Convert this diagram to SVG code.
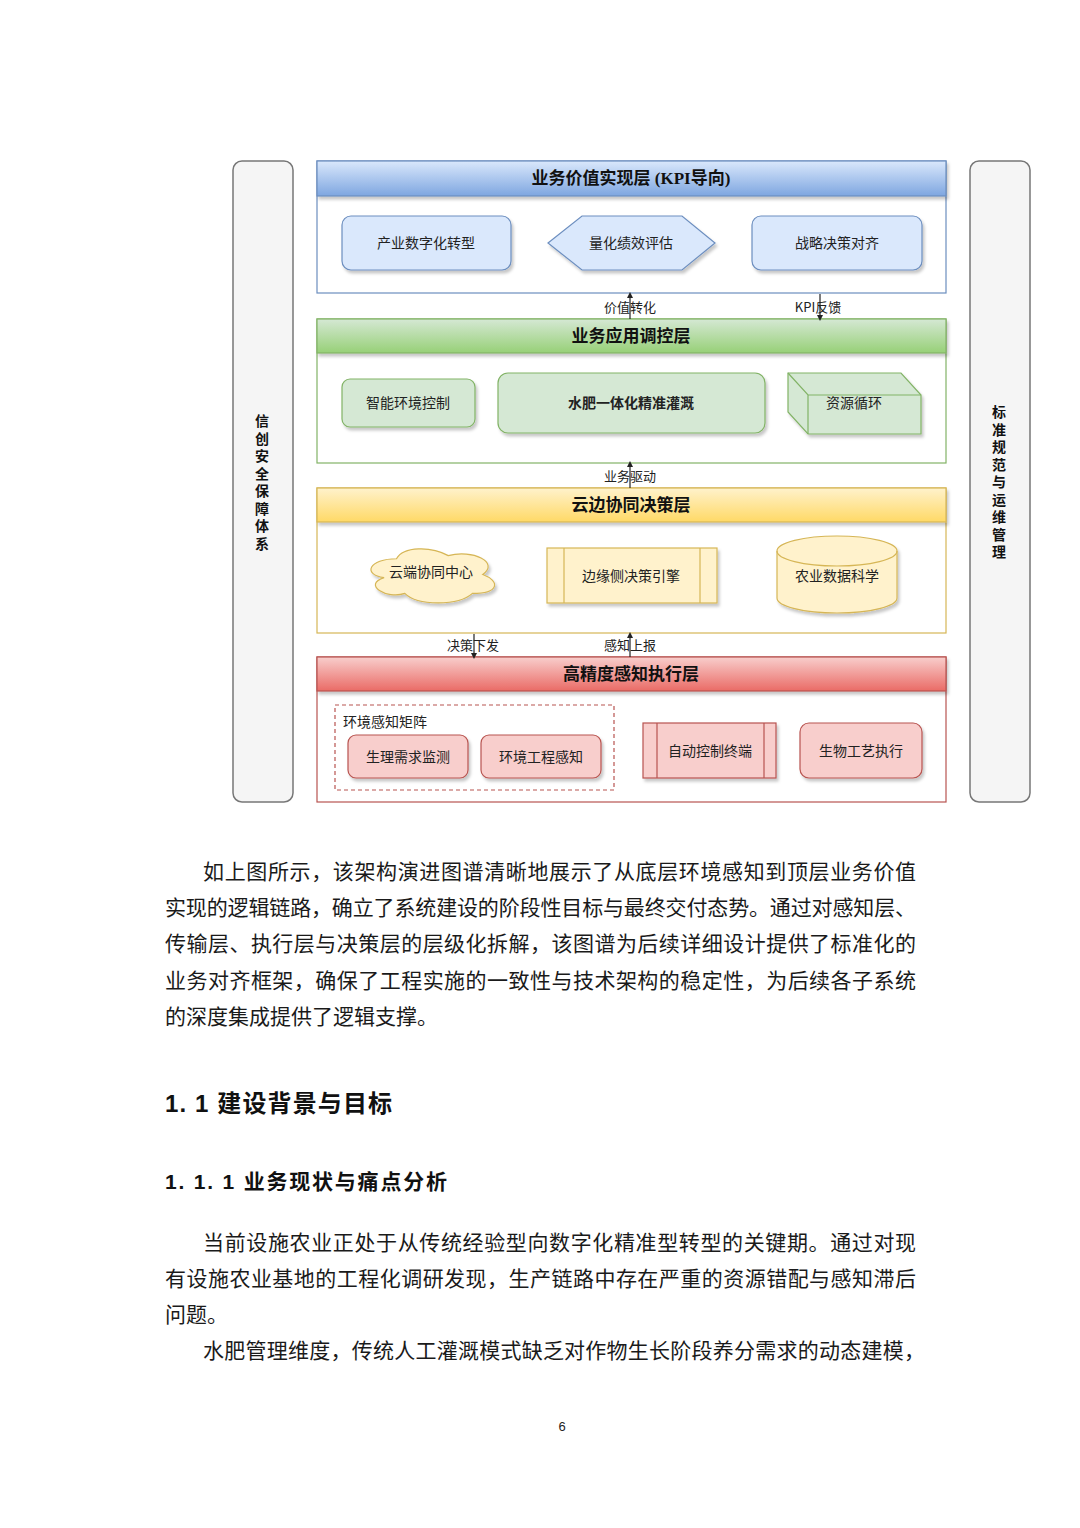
<svg xmlns="http://www.w3.org/2000/svg" width="1080" height="1528" viewBox="0 0 1080 1528">
<defs>
<linearGradient id="gBlue" x1="0" y1="0" x2="0" y2="1"><stop offset="0" stop-color="#dae8fc"/><stop offset="1" stop-color="#7ea6e0"/></linearGradient>
<linearGradient id="gGreen" x1="0" y1="0" x2="0" y2="1"><stop offset="0" stop-color="#d5e8d4"/><stop offset="1" stop-color="#97d077"/></linearGradient>
<linearGradient id="gYellow" x1="0" y1="0" x2="0" y2="1"><stop offset="0" stop-color="#fff2cc"/><stop offset="1" stop-color="#ffd966"/></linearGradient>
<linearGradient id="gRed" x1="0" y1="0" x2="0" y2="1"><stop offset="0" stop-color="#f8cecc"/><stop offset="1" stop-color="#ea6b66"/></linearGradient>
<filter id="sh" x="-10%" y="-10%" width="130%" height="140%"><feDropShadow dx="2" dy="3" stdDeviation="1.5" flood-color="#000" flood-opacity="0.22"/></filter>
<marker id="aUp" viewBox="0 0 6 6" refX="3" refY="3" markerWidth="5" markerHeight="5" orient="auto"><path d="M0,0 L6,3 L0,6 Z" fill="#222"/></marker>
</defs>
<style>
.side{fill:#f5f5f5;stroke:#777;stroke-width:1.5}
.sidet{font-family:"Noto Sans CJK SC","Noto Sans",sans-serif;font-size:14px;font-weight:bold;fill:#111;text-anchor:middle}
.hdr{font-family:"Liberation Serif","Noto Sans CJK SC",serif;font-size:17px;font-weight:bold;fill:#111;text-anchor:middle}
.nt{font-family:"Noto Sans CJK SC","Noto Sans",sans-serif;font-size:14px;fill:#222;text-anchor:middle}
.ntl{font-family:"Noto Sans CJK SC","Noto Sans",sans-serif;font-size:14px;fill:#222;text-anchor:start}
.lbl{font-family:"Noto Sans CJK SC","Noto Sans",sans-serif;font-size:13px;fill:#222;text-anchor:middle}
.blue{fill:#dae8fc;stroke:#6c8ebf;stroke-width:1.2}
.green{fill:#d5e8d4;stroke:#82b366;stroke-width:1.2}
.yellow{fill:#fff2cc;stroke:#d6b656;stroke-width:1.2}
.red{fill:#f8cecc;stroke:#b85450;stroke-width:1.2}
.con{stroke:#222;stroke-width:1.2;fill:none;marker-end:url(#aUp)}
.p{font-family:"Liberation Serif","Noto Sans CJK SC",serif;font-size:21px;fill:#1a1a1a}
.h{font-family:"Liberation Sans","Noto Sans CJK SC",sans-serif;font-weight:bold;fill:#111}
</style>
<rect width="1080" height="1528" fill="#ffffff"/>

<g id="side-left">
<rect class="side" x="233" y="161" width="60" height="641" rx="9"/>
<text class="sidet" x="262"><tspan x="262" y="426">信</tspan><tspan x="262" y="443.5">创</tspan><tspan x="262" y="461">安</tspan><tspan x="262" y="478.5">全</tspan><tspan x="262" y="496">保</tspan><tspan x="262" y="513.5">障</tspan><tspan x="262" y="531">体</tspan><tspan x="262" y="548.5">系</tspan></text>
</g>
<g id="side-right">
<rect class="side" x="970" y="161" width="60" height="641" rx="9"/>
<text class="sidet" x="999"><tspan x="999" y="417">标</tspan><tspan x="999" y="434.5">准</tspan><tspan x="999" y="452">规</tspan><tspan x="999" y="469.5">范</tspan><tspan x="999" y="487">与</tspan><tspan x="999" y="504.5">运</tspan><tspan x="999" y="522">维</tspan><tspan x="999" y="539.5">管</tspan><tspan x="999" y="557">理</tspan></text>
</g>

<g id="layer1">
<rect x="317" y="161" width="629" height="132" fill="#fff" stroke="#6c8ebf" stroke-width="1.2"/>
<rect x="317" y="161" width="629" height="35" fill="url(#gBlue)" stroke="#6c8ebf" stroke-width="1.2" filter="url(#sh)"/>
<text class="hdr" x="631" y="184">业务价值实现层 (KPI导向)</text>
</g>
<g id="n-chanye"><rect class="blue" x="342" y="216" width="169" height="54" rx="9" filter="url(#sh)"/><text class="nt" x="426" y="248">产业数字化转型</text></g>
<g id="n-lianghua"><polygon class="blue" points="548,243 582,216 682,216 715,243 682,270 582,270" filter="url(#sh)"/><text class="nt" x="631" y="248">量化绩效评估</text></g>
<g id="n-zhanlue"><rect class="blue" x="752" y="216" width="170" height="54" rx="9" filter="url(#sh)"/><text class="nt" x="837" y="248">战略决策对齐</text></g>

<g id="layer2">
<rect x="317" y="319" width="629" height="144" fill="#fff" stroke="#82b366" stroke-width="1.2"/>
<rect x="317" y="319" width="629" height="34" fill="url(#gGreen)" stroke="#82b366" stroke-width="1.2" filter="url(#sh)"/>
<text class="hdr" x="631" y="342">业务应用调控层</text>
</g>
<g id="n-zhineng"><rect class="green" x="342" y="379" width="133" height="48" rx="8" filter="url(#sh)"/><text class="nt" x="408" y="408">智能环境控制</text></g>
<g id="n-shuifei"><rect class="green" x="498" y="373" width="267" height="60" rx="10" filter="url(#sh)"/><text class="nt" x="631" y="408" font-weight="bold">水肥一体化精准灌溉</text></g>
<g id="n-ziyuan">
<path class="green" d="M788,373 L901,373 L921,395 L921,434 L808,434 L788,412 Z" filter="url(#sh)"/>
<path d="M788,373 L808,395 L921,395 M808,395 L808,434" fill="none" stroke="#82b366" stroke-width="1.2"/>
<text class="nt" x="854" y="408">资源循环</text>
</g>

<g id="layer3">
<rect x="317" y="488" width="629" height="145" fill="#fff" stroke="#d6b656" stroke-width="1.2"/>
<rect x="317" y="488" width="629" height="34" fill="url(#gYellow)" stroke="#d6b656" stroke-width="1.2" filter="url(#sh)"/>
<text class="hdr" x="631" y="511">云边协同决策层</text>
</g>
<g id="n-yunduan"><path class="yellow" d="M396.5,558.75 C368.9,558.75 362,574.5 384.1,577.65 C362,584.6 386.8,599.7 404.8,593.4 C417.2,606 458.6,606 472.4,593.4 C500,593.4 500,580.8 482.75,574.5 C500,561.9 472.4,549.3 448.25,555.6 C431,546.15 403.4,546.15 396.5,558.75 Z" filter="url(#sh)"/><text class="nt" x="431" y="577">云端协同中心</text></g>
<g id="n-bianyuan"><rect class="yellow" x="547" y="548" width="170" height="55" filter="url(#sh)"/><path d="M564,548 V603 M700,548 V603" stroke="#d6b656" stroke-width="1.2"/><text class="nt" x="631" y="581">边缘侧决策引擎</text></g>
<g id="n-nongye">
<path class="yellow" d="M777,551 A60,15 0 0 1 897,551 L897,598 A60,15 0 0 1 777,598 Z" filter="url(#sh)"/>
<path d="M777,551 A60,15 0 0 0 897,551" fill="none" stroke="#d6b656" stroke-width="1.2"/>
<text class="nt" x="837" y="581">农业数据科学</text>
</g>

<g id="layer4">
<rect x="317" y="657" width="629" height="145" fill="#fff" stroke="#b85450" stroke-width="1.2"/>
<rect x="317" y="657" width="629" height="34" fill="url(#gRed)" stroke="#b85450" stroke-width="1.2" filter="url(#sh)"/>
<text class="hdr" x="631" y="680">高精度感知执行层</text>
</g>
<g id="g-huanjing">
<rect x="335" y="705" width="279" height="85" fill="none" stroke="#b85450" stroke-width="1.2" stroke-dasharray="4,3"/>
<text class="ntl" x="343" y="727">环境感知矩阵</text>
</g>
<g id="n-shengli"><rect class="red" x="348" y="735" width="120" height="43" rx="8" filter="url(#sh)"/><text class="nt" x="408" y="762">生理需求监测</text></g>
<g id="n-gongcheng"><rect class="red" x="481" y="735" width="120" height="43" rx="8" filter="url(#sh)"/><text class="nt" x="541" y="762">环境工程感知</text></g>
<g id="n-zidong"><rect class="red" x="643" y="723" width="133" height="55" filter="url(#sh)"/><path d="M657,723 V778 M764,723 V778" stroke="#b85450" stroke-width="1.2"/><text class="nt" x="710" y="756">自动控制终端</text></g>
<g id="n-shengwu"><rect class="red" x="800" y="723" width="122" height="55" rx="9" filter="url(#sh)"/><text class="nt" x="861" y="756">生物工艺执行</text></g>

<g id="connectors">
<line class="con" x1="630" y1="319" x2="630" y2="295"/>
<line class="con" x1="820" y1="294" x2="820" y2="318"/>
<line class="con" x1="630" y1="488" x2="630" y2="464"/>
<line class="con" x1="474" y1="634" x2="474" y2="656"/>
<line class="con" x1="630" y1="657" x2="630" y2="635"/>
<text class="lbl" x="630" y="312">价值转化</text>
<text class="lbl" x="818" y="312">KPI反馈</text>
<text class="lbl" x="630" y="481">业务驱动</text>
<text class="lbl" x="473" y="650">决策下发</text>
<text class="lbl" x="630" y="650">感知上报</text>
</g>

<g id="body">
<text class="p" x="203" y="879" textLength="713" lengthAdjust="spacing">如上图所示，该架构演进图谱清晰地展示了从底层环境感知到顶层业务价值</text>
<text class="p" x="165" y="915" textLength="751" lengthAdjust="spacing">实现的逻辑链路，确立了系统建设的阶段性目标与最终交付态势。通过对感知层、</text>
<text class="p" x="165" y="951" textLength="751" lengthAdjust="spacing">传输层、执行层与决策层的层级化拆解，该图谱为后续详细设计提供了标准化的</text>
<text class="p" x="165" y="988" textLength="751" lengthAdjust="spacing">业务对齐框架，确保了工程实施的一致性与技术架构的稳定性，为后续各子系统</text>
<text class="p" x="165" y="1024">的深度集成提供了逻辑支撑。</text>
<text class="h" x="165" y="1112" font-size="24" textLength="227" lengthAdjust="spacing">1. 1  建设背景与目标</text>
<text class="h" x="165" y="1189" font-size="21" textLength="282" lengthAdjust="spacing">1. 1. 1  业务现状与痛点分析</text>
<text class="p" x="203" y="1250" textLength="713" lengthAdjust="spacing">当前设施农业正处于从传统经验型向数字化精准型转型的关键期。通过对现</text>
<text class="p" x="165" y="1286" textLength="751" lengthAdjust="spacing">有设施农业基地的工程化调研发现，生产链路中存在严重的资源错配与感知滞后</text>
<text class="p" x="165" y="1322">问题。</text>
<text class="p" x="203" y="1358" textLength="722" lengthAdjust="spacing">水肥管理维度，传统人工灌溉模式缺乏对作物生长阶段养分需求的动态建模，</text>
<text x="562" y="1431" font-family="Liberation Sans, sans-serif" font-size="13" fill="#222" text-anchor="middle">6</text>
</g>
</svg>
